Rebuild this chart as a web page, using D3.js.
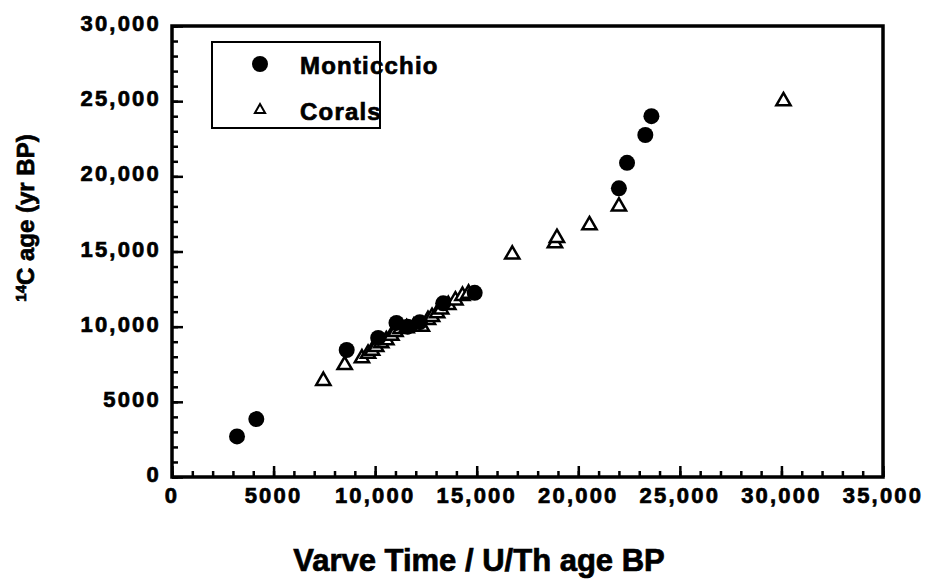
<!DOCTYPE html>
<html>
<head>
<meta charset="utf-8">
<script src="https://cdn.jsdelivr.net/npm/d3@7"></script>
<style>
  body { margin: 0; background: #fff; }
  text { font-family: "Liberation Sans", Arial, sans-serif; font-weight: bold; fill: #000; stroke: #000; stroke-width: 0.7px; }
</style>
</head>
<body>
<div id="chart"></div>
<script>
// Monticchio varve ages vs 14C ages
var monticchio_x = [3200, 4150, 8600, 10150, 11050, 11600, 12200, 13350, 14900, 22000, 22400, 23300, 23600]
var monticchio_y = [2700, 3850, 8450, 9250, 10250, 10000, 10300, 11550, 12250, 19200, 20900, 22750, 24000]

// Coral U/Th ages vs 14C ages
var corals_x = [7450, 8500, 9350, 9650, 9850, 10050, 10300, 10550, 10800, 11000, 11250, 11550, 11900, 12300,
                12600, 12800, 13050, 13250, 13600, 13950, 14300, 14600, 16750, 18850, 18950, 20550, 22000, 30100]
var corals_y = [6400, 7450, 7900, 8200, 8400, 8650, 8900, 9100, 9400, 9650, 9850, 9900, 10000, 10000,
                10450, 10650, 10900, 11150, 11450, 11750, 12050, 12200, 14800, 15550, 15900, 16750, 18000, 25000]

var x_ticks = [0, 5000, 10000, 15000, 20000, 25000, 30000, 35000]
var x_tick_labels = ["0", "5000", "10,000", "15,000", "20,000", "25,000", "30,000", "35,000"]
var y_ticks = [0, 5000, 10000, 15000, 20000, 25000, 30000]
var y_tick_labels = ["0", "5000", "10,000", "15,000", "20,000", "25,000", "30,000"]
var legend_names = ["Monticchio", "Corals"]

const width = 929, height = 586
const plot = { left: 172, right: 883, top: 26, bottom: 477 }

const svg = d3.select("#chart").append("svg").attr("width", width).attr("height", height)

const x = d3.scaleLinear().domain([0, 35000]).range([plot.left, plot.right])
const y = d3.scaleLinear().domain([0, 30000]).range([plot.bottom, plot.top])

// minor ticks every 1000, major every 5000 (pointing inward)
const xaxis_minor = d3.axisTop(x).tickValues(d3.range(0, 35001, 1000)).tickSize(6).tickFormat("")
const xaxis_major = d3.axisTop(x).tickValues(x_ticks).tickSize(11).tickFormat("")
const yaxis_minor = d3.axisRight(y).tickValues(d3.range(0, 30001, 1000)).tickSize(6).tickFormat("")
const yaxis_major = d3.axisRight(y).tickValues(y_ticks).tickSize(11).tickFormat("")

function style_axis(g) {
    g.select(".domain").remove()
    g.selectAll(".tick line").attr("stroke", "#000").attr("stroke-width", 2.5)
}
svg.append("g").attr("transform", `translate(0, ${plot.bottom})`).call(xaxis_minor).call(style_axis)
svg.append("g").attr("transform", `translate(0, ${plot.bottom})`).call(xaxis_major).call(style_axis)
svg.append("g").attr("transform", `translate(${plot.left}, 0)`).call(yaxis_minor).call(style_axis)
svg.append("g").attr("transform", `translate(${plot.left}, 0)`).call(yaxis_major).call(style_axis)

// frame
svg.append("rect")
    .attr("x", plot.left).attr("y", plot.top)
    .attr("width", plot.right - plot.left).attr("height", plot.bottom - plot.top)
    .attr("fill", "none").attr("stroke", "#000").attr("stroke-width", 3.5)

// tick labels
svg.append("g").selectAll("text")
    .data(x_ticks)
    .join("text")
    .attr("x", d => x(d))
    .attr("y", plot.bottom + 26)
    .attr("text-anchor", "middle")
    .attr("font-size", 22)
    .attr("letter-spacing", 2.2)
    .text((d, i) => x_tick_labels[i])

svg.append("g").selectAll("text")
    .data(y_ticks)
    .join("text")
    .attr("x", plot.left - 11)
    .attr("y", d => y(d) + 5)
    .attr("text-anchor", "end")
    .attr("font-size", 22)
    .attr("letter-spacing", 2.2)
    .text((d, i) => y_tick_labels[i])

// axis titles
svg.append("text")
    .attr("x", 479).attr("y", 571)
    .attr("text-anchor", "middle")
    .attr("font-size", 31)
    .text("Varve Time / U/Th age BP")

const ytitle = svg.append("text")
    .attr("transform", "translate(34, 218) rotate(-90)")
    .attr("text-anchor", "middle")
    .attr("font-size", 24)
ytitle.append("tspan").attr("font-size", 15).attr("dy", -8).text("14")
ytitle.append("tspan").attr("dy", 8).text("C age (yr BP)")

// points
const corals = corals_x.map((d, i) => ({ x: d, y: corals_y[i] }))
const monti = monticchio_x.map((d, i) => ({ x: d, y: monticchio_y[i] }))

const tri = d3.symbol().type(d3.symbolTriangle).size(88)

svg.append("g").selectAll("path")
    .data(corals)
    .join("path")
    .attr("d", tri)
    .attr("transform", d => `translate(${x(d.x)}, ${y(d.y)})`)
    .attr("fill", "#fff").attr("stroke", "#000").attr("stroke-width", 2.5)

svg.append("g").selectAll("circle")
    .data(monti)
    .join("circle")
    .attr("cx", d => x(d.x)).attr("cy", d => y(d.y))
    .attr("r", 8)
    .attr("fill", "#000")

// legend
const legend = svg.append("g")
legend.append("rect")
    .attr("x", 212).attr("y", 42).attr("width", 168).attr("height", 86)
    .attr("fill", "#fff").attr("stroke", "#000").attr("stroke-width", 2)
legend.append("circle").attr("cx", 260).attr("cy", 64).attr("r", 8).attr("fill", "#000")
legend.append("path").attr("d", d3.symbol().type(d3.symbolTriangle).size(45))
    .attr("transform", "translate(260, 110)")
    .attr("fill", "#fff").attr("stroke", "#000").attr("stroke-width", 2)
legend.selectAll("text.leg")
    .data(legend_names)
    .join("text")
    .attr("class", "leg")
    .attr("x", 300)
    .attr("y", (d, i) => 74 + i * 46)
    .attr("font-size", 24)
    .attr("letter-spacing", 1.2)
    .text(d => d)
</script>
</body>
</html>
